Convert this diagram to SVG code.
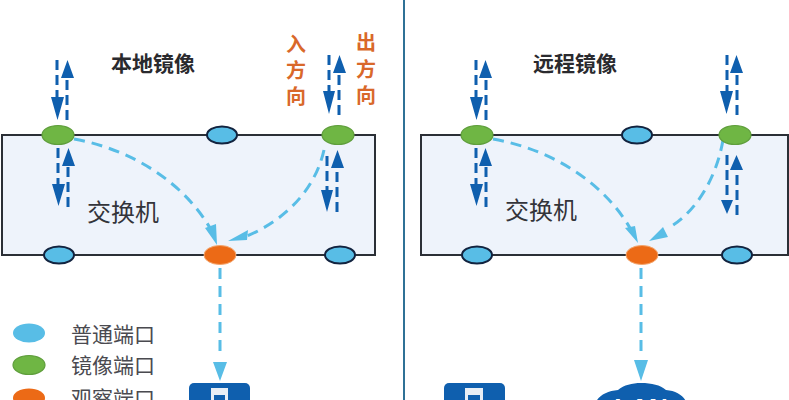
<svg xmlns="http://www.w3.org/2000/svg" width="789" height="400" viewBox="0 0 789 400">
<style>
text{font-family:"Noto Sans CJK SC","Noto Sans",sans-serif}
.sw{fill:#eef3fb;stroke:#2b2f36;stroke-width:2}
.b{fill:#58bde6;stroke:#12233f;stroke-width:2}
.g{fill:#6fb644;stroke:#5f9e3c;stroke-width:1.2}
.o{fill:#ec6a16;stroke:#f4a56c;stroke-width:1}
.d{fill:none;stroke:#0f5fae;stroke-width:3;stroke-dasharray:10 5}
.c{fill:none;stroke:#58bde6;stroke-width:3;stroke-dasharray:11 7}
.hd{fill:#0f5fae}.hc{fill:#58bde6}
.t{font-size:24px;fill:#33343a}
.h{font-size:21px;font-weight:700;fill:#2a2a2e}
.l{font-size:21px;fill:#4a4a50}
.v{font-size:20px;font-weight:700;fill:#d9682a}
.box{fill:#0f5fae}
</style>
<rect id="background" width="789" height="400" fill="#fff"/>
<line id="divider" x1="404" y1="0" x2="404" y2="400" stroke="#2f7196" stroke-width="2"/>
<g id="switch-local"><rect class="sw" x="2" y="135" width="373" height="120"/><text class="t" x="87" y="221">交换机</text></g>
<g id="switch-remote"><rect class="sw" x="421" y="135" width="367" height="120"/><text class="t" x="505" y="219">交换机</text></g>
<g id="connectors">
<path class="d" d="M57 60V104M67 120V72M58 148V190M68 207V160"/>
<path class="d" d="M329 55V99M339 115V68M327 156V196M337 212V162"/>
<path class="d" d="M476 60V104M486 120V72M476 148V190M486 207V160"/>
<path class="d" d="M727 55V99M737 115V68M727 155V198M737 215V166"/>
<path class="hd" d="M51 97H64L57.500 120ZM61 78H74L67.500 60ZM52 184H65L58.500 206ZM62 166H75L68.500 148ZM323 91H335L329 114ZM333 73H346L339.500 55ZM321 190H333L327 212ZM331 168H344L337.500 150ZM470 97H483L476.500 120ZM479 78H492L485.500 60ZM470 184H483L476.500 206ZM479 166H492L485.500 148ZM720 91H733L726.500 114ZM730 73H743L736.500 55ZM721 200H733L727 214ZM730 170H743L736.500 155Z"/>
<path class="c" d="M74 139C135 150 185 185 210 228"/>
<path class="c" d="M324 150C315 190 285 220 247 236"/>
<path class="c" d="M220 268V358"/>
<path class="c" d="M493 139C555 150 605 185 630 228"/>
<path class="c" d="M723 140C716 180 695 212 670 227"/>
<path class="c" d="M641 268V358"/>
<path class="hc" d="M205 228L216 224L217 245ZM248 230L247 240L228 241ZM625 228L635 226L638 243ZM663 227L668 237L649 241ZM213 362H227L220 381ZM634 360H648L641 381Z"/>
</g>
<g id="port-l1"><ellipse class="g" cx="58" cy="135" rx="16" ry="9.500"/></g>
<g id="port-l2"><ellipse class="b" cx="222" cy="135" rx="15" ry="8.500"/></g>
<g id="port-l3"><ellipse class="g" cx="338" cy="135" rx="16" ry="9.500"/></g>
<g id="port-l4"><ellipse class="b" cx="59" cy="255" rx="15" ry="8.500"/></g>
<g id="port-l5"><ellipse class="o" cx="220" cy="255" rx="16" ry="9.500"/></g>
<g id="port-l6"><ellipse class="b" cx="340" cy="255" rx="15" ry="8.500"/></g>
<g id="port-r1"><ellipse class="g" cx="477" cy="135" rx="16" ry="9.500"/></g>
<g id="port-r2"><ellipse class="b" cx="637" cy="135" rx="15" ry="8.500"/></g>
<g id="port-r3"><ellipse class="g" cx="735" cy="135" rx="16" ry="9.500"/></g>
<g id="port-r4"><ellipse class="b" cx="477" cy="255" rx="15" ry="8.500"/></g>
<g id="port-r5"><ellipse class="o" cx="642" cy="255" rx="16" ry="9.500"/></g>
<g id="port-r6"><ellipse class="b" cx="737" cy="255" rx="15" ry="8.500"/></g>
<g id="title-local"><text class="h" x="111" y="71">本地镜像</text></g>
<g id="title-remote"><text class="h" x="533" y="71">远程镜像</text></g>
<g id="label-in"><text class="v" x="286" y="52">入</text><text class="v" x="286" y="78">方</text><text class="v" x="286" y="104">向</text></g>
<g id="label-out"><text class="v" x="356" y="50">出</text><text class="v" x="356" y="77">方</text><text class="v" x="356" y="103">向</text></g>
<g id="legend">
<ellipse fill="#58bde6" cx="29" cy="333" rx="16" ry="9.500"/>
<ellipse class="g" cx="29" cy="365" rx="16" ry="9.500"/>
<ellipse fill="#ec6a16" cx="29" cy="398" rx="16" ry="9.500"/>
<text class="l" x="71" y="342">普通端口</text>
<text class="l" x="71" y="373">镜像端口</text>
<text class="l" x="71" y="406">观察端口</text>
</g>
<g id="server-local"><rect class="box" x="189" y="383" width="61" height="30" rx="5"/><rect x="211" y="388" width="17" height="16" fill="#e8eef5"/><rect x="214" y="395" width="11" height="6" fill="#0f5fae"/></g>
<g id="server-remote"><rect class="box" x="444" y="383" width="61" height="30" rx="5"/><rect x="465" y="388" width="18" height="16" fill="#e8eef5"/><rect x="468" y="395" width="12" height="6" fill="#0f5fae"/></g>
<g id="lan-cloud"><path class="box" d="M595 410C593 399 604 391 618 390C624 385 632 383 641 383C652 383 660 385 666 390C680 391 689 400 687 410Z"/><text x="641" y="417" text-anchor="middle" fill="#fff" style="font-size:26px;font-weight:700;font-family:'Liberation Sans',sans-serif">LAN</text></g>
</svg>
